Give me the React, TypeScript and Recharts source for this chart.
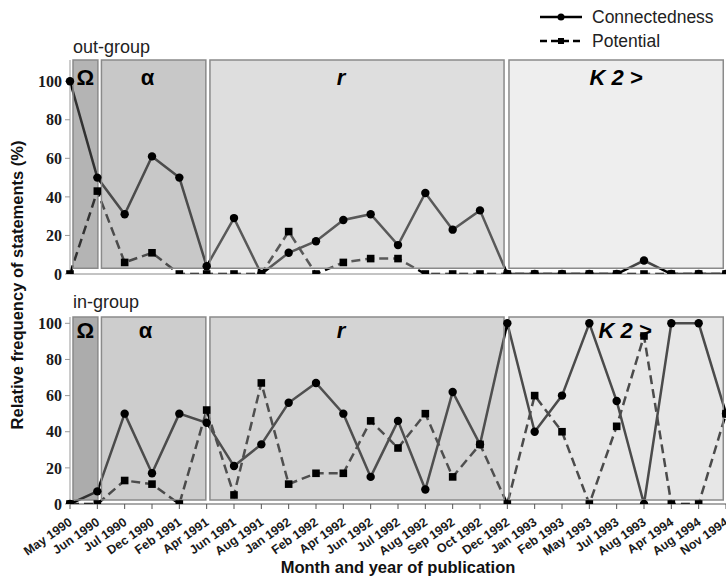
import React from 'react';
import { LineChart, Line, XAxis, YAxis, ReferenceArea, Legend } from 'recharts';

const months = [
  'May 1990', 'Jun 1990', 'Jul 1990', 'Dec 1990', 'Feb 1991', 'Apr 1991', 'Jun 1991', 'Aug 1991',
  'Jan 1992', 'Feb 1992', 'Apr 1992', 'Jun 1992', 'Jul 1992', 'Aug 1992', 'Sep 1992', 'Oct 1992',
  'Dec 1992', 'Jan 1993', 'Feb 1993', 'May 1993', 'Jul 1993', 'Aug 1993', 'Apr 1994', 'Aug 1994', 'Nov 1994',
];
const outConnectedness = [100, 50, 31, 61, 50, 4, 29, 0, 11, 17, 28, 31, 15, 42, 23, 33, 0, 0, 0, 0, 0, 7, 0, 0, 0];
const outPotential = [0, 43, 6, 11, 0, 0, 0, 0, 22, 0, 6, 8, 8, 0, 0, 0, 0, 0, 0, 0, 0, 0, 0, 0, 0];
const inConnectedness = [0, 7, 50, 17, 50, 45, 21, 33, 56, 67, 50, 15, 46, 8, 62, 33, 100, 40, 60, 100, 57, 0, 100, 100, 50];
const inPotential = [0, 0, 13, 11, 0, 52, 5, 67, 11, 17, 17, 46, 31, 50, 15, 33, 0, 60, 40, 0, 43, 93, 0, 0, 50];
const yTicks = [0, 20, 40, 60, 80, 100];
const phaseNames = ['Ω', 'α', 'r', 'K 2 >'];
const phaseStart = [0.11, 1.15, 5.12, 16.06];
const phaseEnd = [1.02, 4.97, 15.88, 23.9];

// styling
const phaseItalic = [false, false, true, true];
const topFill = ['#666666', '#939393', '#bbbbbb', '#cecece'];
const topOpacity = [0.49, 0.51, 0.48, 0.34];
const botFill = ['#606060', '#999999', '#a6a6a6', '#c0c0c0'];
const botOpacity = [0.52, 0.49, 0.48, 0.39];
const topDx = [0, -6, -16, 0];
const botDx = [0, -8, -16, 9];

const SANS = '"Liberation Sans", Arial, sans-serif';
const SERIF = '"Liberation Serif", "Times New Roman", serif';

const makeData = (c: number[], p: number[]) =>
  months.map((m, i) => ({ i, month: m, connectedness: c[i], potential: p[i] }));
const outData = makeData(outConnectedness, outPotential);
const inData = makeData(inConnectedness, inPotential);
const xTicks = months.map((_, i) => i);

const CircleDot = (props: any) => {
  const { cx, cy, index } = props;
  if (cx == null || cy == null) return <g key={`c${index}`} />;
  return <circle key={`c${index}`} cx={cx} cy={cy} r={4.2} fill="#000" />;
};
const SquareDot = (props: any) => {
  const { cx, cy, index } = props;
  if (cx == null || cy == null) return <g key={`s${index}`} />;
  return <rect key={`s${index}`} x={cx - 3.8} y={cy - 3.8} width={7.6} height={7.6} fill="#000" />;
};

const MonthTick = (props: any) => {
  const { x, y, payload } = props;
  return (
    <g transform={`translate(${x + 3},${y + 13})`}>
      <text
        x={0}
        y={0}
        textAnchor="end"
        transform="rotate(-35)"
        fontSize={12.5}
        fontWeight="bold"
        fontFamily={SANS}
        fill="#1a1a1a"
      >
        {months[payload.value]}
      </text>
    </g>
  );
};

const phaseLabel = (text: string, italic: boolean, dx: number, dy: number) => (props: any) => {
  const vb = props.viewBox || props;
  return (
    <text
      x={vb.x + vb.width / 2 + dx}
      y={vb.y + dy}
      textAnchor="middle"
      fontSize={22}
      fontWeight="bold"
      fontStyle={italic ? 'italic' : 'normal'}
      fontFamily={SANS}
      fill="#000"
    >
      {text}
    </text>
  );
};

const LegendContent = () => (
  <svg width={200} height={52}>
    <line x1={10} y1={17} x2={52} y2={17} stroke="#000" strokeWidth={2.5} />
    <circle cx={31} cy={17} r={3.5} fill="#000" />
    <text x={62} y={23} fontSize={17.5} fontFamily={SANS} fill="#222">Connectedness</text>
    <line x1={10} y1={41} x2={52} y2={41} stroke="#000" strokeWidth={2.5} strokeDasharray="7 4" />
    <rect x={28} y={38} width={6} height={6} fill="#000" />
    <text x={62} y={47} fontSize={17.5} fontFamily={SANS} fill="#222">Potential</text>
  </svg>
);

const renderBands = (
  fills: string[],
  opacities: number[],
  dxs: number[],
  y1: number,
  y2: number,
  dy: number,
  prefix: string
) =>
  phaseNames.map((name, k) => (
    <ReferenceArea
      key={`${prefix}${k}`}
      x1={phaseStart[k]}
      x2={phaseEnd[k]}
      y1={y1}
      y2={y2}
      fill={fills[k]}
      fillOpacity={opacities[k]}
      stroke="#8a8a8a"
      strokeWidth={1.5}
      ifOverflow="visible"
      zIndex={450}
      label={phaseLabel(name, phaseItalic[k], dxs[k], dy)}
    />
  ));

const axisTick = { fontSize: 16, fontWeight: 'bold', fontFamily: SERIF, fill: '#1a1a1a' };

export default function App() {
  return (
    <div style={{ position: 'absolute', left: 0, top: 0, width: 726, height: 582, background: '#fff', overflow: 'hidden' }}>
      <div style={{ position: 'absolute', left: 0, top: 0 }}>
        <LineChart width={726} height={290} data={outData} margin={{ top: 60, right: 0, bottom: 0, left: 0 }}>
          <XAxis
            dataKey="i"
            type="number"
            domain={[0, 24]}
            ticks={xTicks}
            interval={0}
            tick={false}
            tickSize={5}
            height={16}
            stroke="#888"
          />
          <YAxis
            domain={[0, 111]}
            ticks={yTicks}
            interval={0}
            width={70}
            tickSize={5}
            tickMargin={3}
            tick={axisTick}
            stroke="#999"
            allowDataOverflow
          />
          <Line
            dataKey="connectedness"
            stroke="#000"
            strokeWidth={2.5}
            dot={CircleDot}
            activeDot={false}
            isAnimationActive={false}
          />
          <Line
            dataKey="potential"
            stroke="#000"
            strokeWidth={2.5}
            strokeDasharray="9 5"
            dot={SquareDot}
            activeDot={false}
            isAnimationActive={false}
          />
          {renderBands(topFill, topOpacity, topDx, 3, 111, 25, 't')}
          <Legend
            layout="vertical"
            align="center"
            verticalAlign="middle"
            content={LegendContent}
            wrapperStyle={{ position: 'absolute', top: 0, left: 530, width: 200, height: 52 }}
          />
        </LineChart>
      </div>
      <div style={{ position: 'absolute', left: 0, top: 290 }}>
        <LineChart width={726} height={292} data={inData} margin={{ top: 27, right: 0, bottom: 0, left: 0 }}>
          <XAxis
            dataKey="i"
            type="number"
            domain={[0, 24]}
            ticks={xTicks}
            interval={0}
            tick={MonthTick}
            tickSize={5}
            tickMargin={2}
            height={78}
            stroke="#555"
            label={{
              value: 'Month and year of publication',
              position: 'insideBottom',
              offset: 9,
              fontSize: 16.5,
              fontWeight: 'bold',
              fontFamily: SANS,
              fill: '#111',
            }}
          />
          <YAxis
            domain={[0, 103.5]}
            ticks={yTicks}
            interval={0}
            width={70}
            tickSize={5}
            tickMargin={3}
            tick={axisTick}
            stroke="#999"
            allowDataOverflow
          />
          <Line
            dataKey="connectedness"
            stroke="#000"
            strokeWidth={2.5}
            dot={CircleDot}
            activeDot={false}
            isAnimationActive={false}
          />
          <Line
            dataKey="potential"
            stroke="#000"
            strokeWidth={2.5}
            strokeDasharray="9 5"
            dot={SquareDot}
            activeDot={false}
            isAnimationActive={false}
          />
          {renderBands(botFill, botOpacity, botDx, 2.2, 103.5, 21, 'b')}
        </LineChart>
      </div>
      <svg
        width={726}
        height={582}
        style={{ position: 'absolute', left: 0, top: 0, pointerEvents: 'none' }}
      >
        <text x={73} y={53} fontSize={18} fontFamily={SANS} fill="#222">out-group</text>
        <text x={73} y={308} fontSize={18} fontFamily={SANS} fill="#222">in-group</text>
        <text
          x={0}
          y={0}
          transform="translate(23,285) rotate(-90)"
          textAnchor="middle"
          fontSize={16.5}
          fontWeight="bold"
          fontFamily={SANS}
          fill="#111"
        >
          Relative frequency of statements (%)
        </text>
      </svg>
    </div>
  );
}
